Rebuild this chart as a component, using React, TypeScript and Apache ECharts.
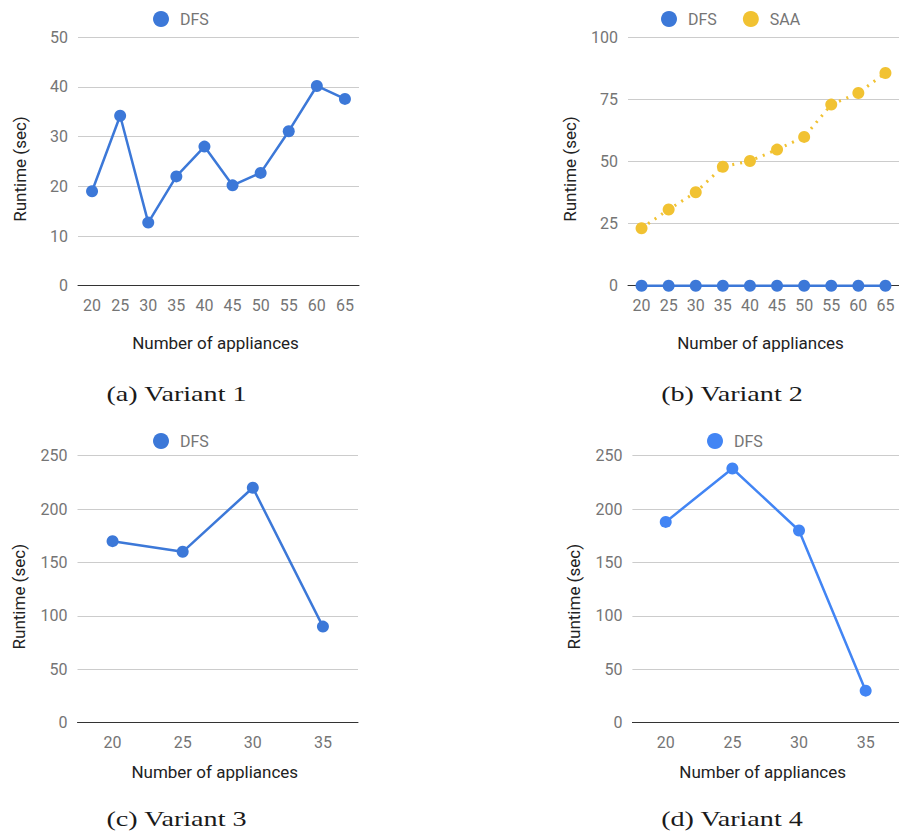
import React, { useEffect, useRef } from "react";
import * as echarts from "echarts";

const catsAB = ["20", "25", "30", "35", "40", "45", "50", "55", "60", "65"];
const dfsA = [19, 34.2, 12.7, 22, 28, 20.2, 22.7, 31.1, 40.2, 37.6];
const dfsB = [0, 0, 0, 0, 0, 0, 0, 0, 0, 0];
const saaB = [23.1, 30.7, 37.6, 47.9, 50.2, 54.8, 59.9, 72.9, 77.6, 85.6];
const catsCD = ["20", "25", "30", "35"];
const dfsC = [170, 160, 220, 90];
const dfsD = [188, 238, 180, 30];
const captions = ["(a) Variant 1", "(b) Variant 2", "(c) Variant 3", "(d) Variant 4"];
const xTitle = "Number of appliances";
const yTitle = "Runtime (sec)";

const BLUE = "#3c78d8";
const BLUE2 = "#4285f4";
const YELLOW = "#f1c232";
const FONT = "Roboto";
const TICK = "#757575";
const TITLE = "#222222";

export default function App() {
  const ref = useRef<HTMLDivElement>(null);
  useEffect(() => {
    const chart = echarts.init(ref.current!, null, { renderer: "svg" });
    const grids = [
      { left: 78, top: 37.3, width: 281, height: 248.4 },
      { left: 628, top: 37.3, width: 276, height: 248.4 },
      { left: 77.5, top: 455.7, width: 280.5, height: 267 },
      { left: 632.4, top: 455.7, width: 279, height: 267 },
    ];
    const xAxisBase = (i: number, data: string[], gap: number) => ({
      type: "category",
      gridIndex: i,
      data,
      boundaryGap: true,
      axisTick: { show: false },
      axisLine: { show: true, lineStyle: { color: "#333333", width: 1 } },
      axisLabel: { color: TICK, fontSize: 16, fontFamily: FONT, margin: 12 },
      name: xTitle,
      nameLocation: "middle",
      nameGap: gap,
      nameTextStyle: { color: TITLE, fontSize: 17, fontFamily: FONT, padding: [0, 6, 0, 0] },
      splitLine: { show: false },
    });
    const yAxisBase = (i: number, max: number, interval: number) => ({
      type: "value",
      gridIndex: i,
      min: 0,
      max,
      interval,
      axisLine: { show: false },
      axisTick: { show: false },
      axisLabel: { color: TICK, fontSize: 16, fontFamily: FONT, margin: 10 },
      splitLine: { show: true, lineStyle: { color: "#cccccc", width: 1 } },
      name: yTitle,
      nameLocation: "middle",
      nameGap: 50,
      nameTextStyle: { color: TITLE, fontSize: 17, fontFamily: FONT, padding: [0, 15, 0, 0] },
    });
    const lineSeries = (name: string, i: number, data: number[], color: string, dotted = false) => ({
      type: "line",
      name,
      xAxisIndex: i,
      yAxisIndex: i,
      data,
      symbol: "circle",
      symbolSize: 12,
      showSymbol: true,
      itemStyle: { color },
      lineStyle: { color, width: dotted ? 3 : 2.5, type: dotted ? [2, 6] : "solid" },
      emphasis: { disabled: true },
      z: name === "SAA" ? 3 : 4,
    });
    const legendBase = {
      icon: "circle",
      itemWidth: 28,
      itemHeight: 16,
      orient: "horizontal",
      textStyle: { color: TICK, fontSize: 16, fontFamily: FONT },
      selectedMode: false,
    };
    const capPos = [
      [176.5, 393],
      [732, 393],
      [176.5, 818],
      [732, 818],
    ];
    chart.setOption({
      animation: false,
      backgroundColor: "#ffffff",
      grid: grids,
      xAxis: [
        xAxisBase(0, catsAB, 48.5),
        xAxisBase(1, catsAB, 48.5),
        xAxisBase(2, catsCD, 40.5),
        xAxisBase(3, catsCD, 40.5),
      ],
      yAxis: [yAxisBase(0, 50, 10), yAxisBase(1, 100, 25), yAxisBase(2, 250, 50), yAxisBase(3, 250, 50)],
      legend: [
        { ...legendBase, left: 148, top: 6, data: [{ name: "DFS", itemStyle: { color: BLUE } }] },
        {
          ...legendBase,
          left: 656,
          top: 6,
          itemGap: 26,
          data: [
            { name: "DFS", itemStyle: { color: BLUE } },
            { name: "SAA", itemStyle: { color: YELLOW } },
          ],
        },
        { ...legendBase, left: 148, top: 428, data: [{ name: "DFS", itemStyle: { color: BLUE } }] },
        { ...legendBase, left: 702, top: 428, data: [{ name: "DFS", itemStyle: { color: BLUE2 } }] },
      ],
      series: [
        lineSeries("DFS", 0, dfsA, BLUE),
        lineSeries("SAA", 1, saaB, YELLOW, true),
        lineSeries("DFS", 1, dfsB, BLUE),
        lineSeries("DFS", 2, dfsC, BLUE),
        lineSeries("DFS", 3, dfsD, BLUE2),
      ],
      graphic: captions.map((c, i) => ({
        type: "text",
        x: capPos[i][0],
        y: capPos[i][1],
        scaleX: 1.28,
        style: {
          text: c,
          fill: "#1a1a1a",
          font: '22px "Liberation Serif", serif',
          align: "center",
          verticalAlign: "middle",
        },
      })),
    });
    return () => chart.dispose();
  }, []);
  return (
    <div
      ref={ref}
      style={{ position: "absolute", left: 0, top: 0, width: 899, height: 835, background: "#fff" }}
    />
  );
}
